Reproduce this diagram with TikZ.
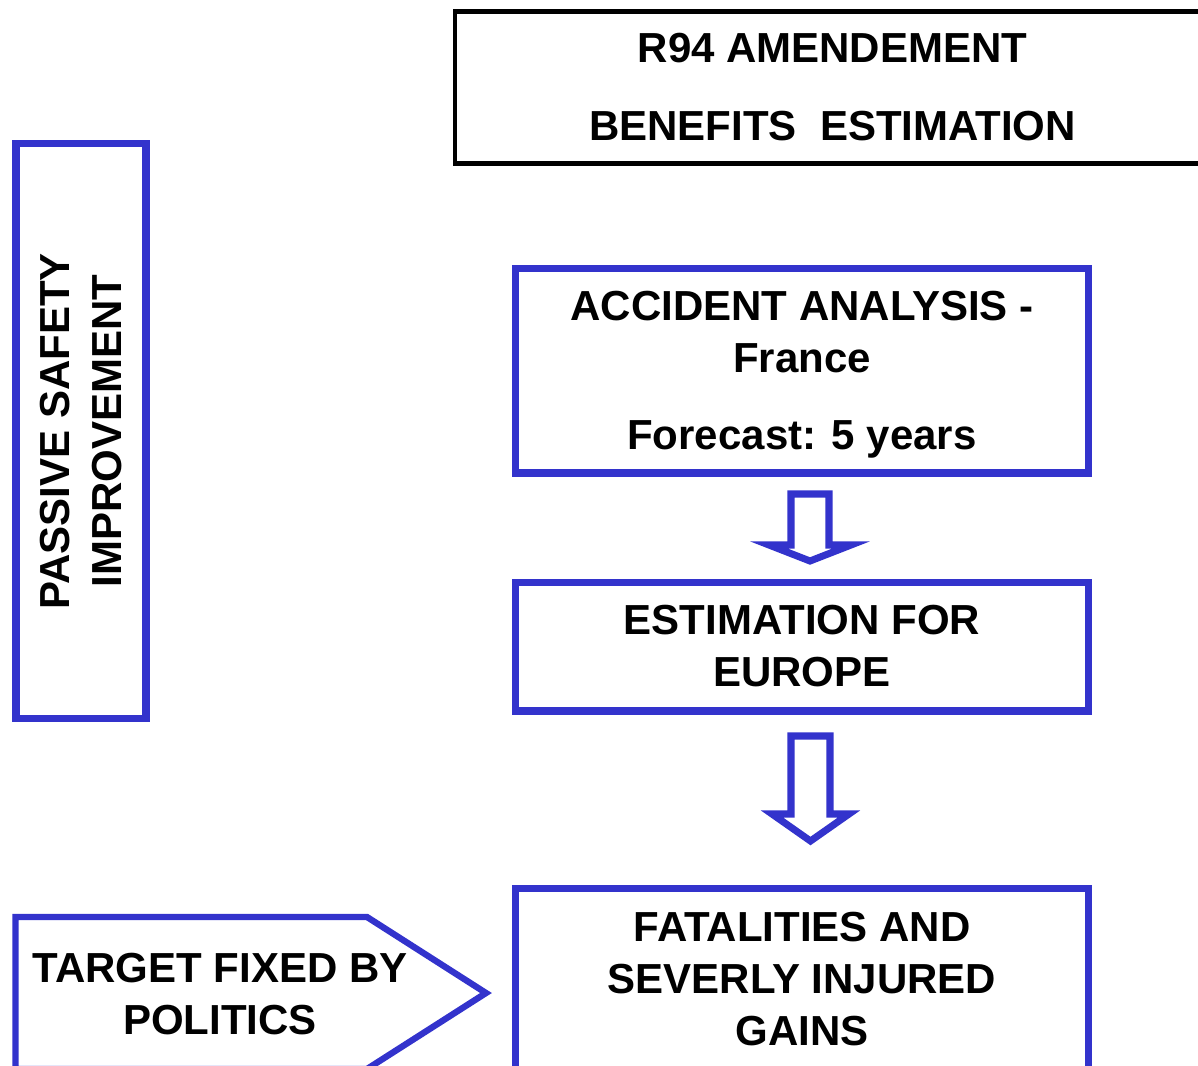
\documentclass[tikz,border=0pt]{standalone}
\usepackage{fontspec}
\setmainfont{Liberation Sans}
\usepackage{tikz}
\usepackage{xcolor}
\definecolor{ColBlue}{RGB}{51,51,204}
\newcommand{\BoxFont}{\fontsize{23.9pt}{29.6pt}\selectfont\bfseries}
\tikzstyle{BlueBox}=[rectangle,draw=ColBlue,line width=4pt,inner sep=0pt,
minimum width=11.48cm,align=center,font=\BoxFont]
\tikzstyle{TitleBox}=[rectangle,draw=black,line width=2.7pt,inner sep=0pt,
minimum width=15.1cm,minimum height=3.03cm,align=center,font=\BoxFont]
\tikzstyle{PlainText}=[inner sep=0pt,align=center,font=\BoxFont]
\tikzstyle{HollowArrow}=[draw=ColBlue,fill=white,line width=4pt]
\tikzstyle{SignLine}=[draw=ColBlue,line width=3.6pt]

\begin{document}
\begin{tikzpicture}[x=0.02cm,y=-0.02cm]
        \clip(0,0)rectangle(1198,1066);
        \node[TitleBox](title)at(832.5,87.5){R94 AMENDEMENT\\[0.52cm]BENEFITS\ \ ESTIMATION};
        \node[BlueBox,rotate=90,minimum width=11.51cm,minimum height=2.6cm](passive)at(81,431.25)
            {PASSIVE SAFETY\\IMPROVEMENT};
        \node[BlueBox,minimum height=4.1cm,text depth=0pt](accident)at(802,370.5)
            {ACCIDENT ANALYSIS -\\France\\[0.5cm]Forecast: 5 years};
        \node[BlueBox,minimum height=2.58cm](europe)at(802,646.5){ESTIMATION FOR\\EUROPE};
        \node[BlueBox,minimum height=3.64cm](gains)at(802,979)
            {FATALITIES AND\\SEVERLY INJURED\\GAINS};
        % hollow arrows
        \draw[HollowArrow](791,494)--(829,494)--(829,545)--(851,545)--(810,561)--(769,545)
            --(791,545)--cycle;
        \draw[HollowArrow](791,736)--(830,736)--(830,814)--(849,814)--(810.5,841)--(772,814)
            --(791,814)--cycle;
        % target sign
        \draw[SignLine](15.5,917)--(367,917)--(486,993)--(367,1069)--(15.5,1069)--cycle;
        \node[PlainText](target)at(220,994){TARGET FIXED BY\\POLITICS};
    \end{tikzpicture}
\end{document}
